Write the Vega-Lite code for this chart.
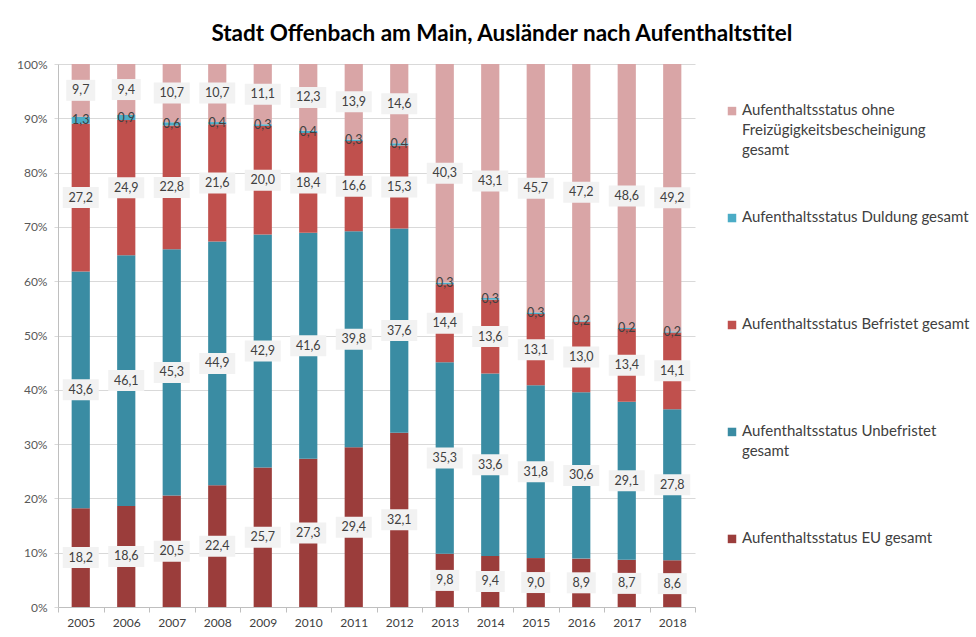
{
  "$schema": "https://vega.github.io/schema/vega-lite/v6.json",
  "background": "white",
  "padding": {"left": 16, "top": 22, "right": 5, "bottom": 5},
  "title": {
    "text": "Stadt Offenbach am Main, Ausländer nach Aufenthaltstitel",
    "font": "Lato", "fontSize": 22.5, "fontWeight": "bold", "color": "#000000",
    "anchor": "middle", "offset": 13, "dx": 9
  },
  "spacing": 28,
  "config": {
    "font": "Lato",
    "view": {"stroke": null},
    "locale": {"number": {"decimal": ",", "thousands": ".", "grouping": [3], "currency": ["", " €"]}}
  },
  "hconcat": [
    {
      "width": 637,
      "height": 543,
      "data": {"values": [
        {"year": "2005", "Aufenthaltsstatus EU gesamt": 18.2, "Aufenthaltsstatus Unbefristet gesamt": 43.6, "Aufenthaltsstatus Befristet gesamt": 27.2, "Aufenthaltsstatus Duldung gesamt": 1.3, "Aufenthaltsstatus ohne Freizügigkeitsbescheinigung gesamt": 9.7},
        {"year": "2006", "Aufenthaltsstatus EU gesamt": 18.6, "Aufenthaltsstatus Unbefristet gesamt": 46.1, "Aufenthaltsstatus Befristet gesamt": 24.9, "Aufenthaltsstatus Duldung gesamt": 0.9, "Aufenthaltsstatus ohne Freizügigkeitsbescheinigung gesamt": 9.4},
        {"year": "2007", "Aufenthaltsstatus EU gesamt": 20.5, "Aufenthaltsstatus Unbefristet gesamt": 45.3, "Aufenthaltsstatus Befristet gesamt": 22.8, "Aufenthaltsstatus Duldung gesamt": 0.6, "Aufenthaltsstatus ohne Freizügigkeitsbescheinigung gesamt": 10.7},
        {"year": "2008", "Aufenthaltsstatus EU gesamt": 22.4, "Aufenthaltsstatus Unbefristet gesamt": 44.9, "Aufenthaltsstatus Befristet gesamt": 21.6, "Aufenthaltsstatus Duldung gesamt": 0.4, "Aufenthaltsstatus ohne Freizügigkeitsbescheinigung gesamt": 10.7},
        {"year": "2009", "Aufenthaltsstatus EU gesamt": 25.7, "Aufenthaltsstatus Unbefristet gesamt": 42.9, "Aufenthaltsstatus Befristet gesamt": 20.0, "Aufenthaltsstatus Duldung gesamt": 0.3, "Aufenthaltsstatus ohne Freizügigkeitsbescheinigung gesamt": 11.1},
        {"year": "2010", "Aufenthaltsstatus EU gesamt": 27.3, "Aufenthaltsstatus Unbefristet gesamt": 41.6, "Aufenthaltsstatus Befristet gesamt": 18.4, "Aufenthaltsstatus Duldung gesamt": 0.4, "Aufenthaltsstatus ohne Freizügigkeitsbescheinigung gesamt": 12.3},
        {"year": "2011", "Aufenthaltsstatus EU gesamt": 29.4, "Aufenthaltsstatus Unbefristet gesamt": 39.8, "Aufenthaltsstatus Befristet gesamt": 16.6, "Aufenthaltsstatus Duldung gesamt": 0.3, "Aufenthaltsstatus ohne Freizügigkeitsbescheinigung gesamt": 13.9},
        {"year": "2012", "Aufenthaltsstatus EU gesamt": 32.1, "Aufenthaltsstatus Unbefristet gesamt": 37.6, "Aufenthaltsstatus Befristet gesamt": 15.3, "Aufenthaltsstatus Duldung gesamt": 0.4, "Aufenthaltsstatus ohne Freizügigkeitsbescheinigung gesamt": 14.6},
        {"year": "2013", "Aufenthaltsstatus EU gesamt": 9.8, "Aufenthaltsstatus Unbefristet gesamt": 35.3, "Aufenthaltsstatus Befristet gesamt": 14.4, "Aufenthaltsstatus Duldung gesamt": 0.3, "Aufenthaltsstatus ohne Freizügigkeitsbescheinigung gesamt": 40.3},
        {"year": "2014", "Aufenthaltsstatus EU gesamt": 9.4, "Aufenthaltsstatus Unbefristet gesamt": 33.6, "Aufenthaltsstatus Befristet gesamt": 13.6, "Aufenthaltsstatus Duldung gesamt": 0.3, "Aufenthaltsstatus ohne Freizügigkeitsbescheinigung gesamt": 43.1},
        {"year": "2015", "Aufenthaltsstatus EU gesamt": 9.0, "Aufenthaltsstatus Unbefristet gesamt": 31.8, "Aufenthaltsstatus Befristet gesamt": 13.1, "Aufenthaltsstatus Duldung gesamt": 0.3, "Aufenthaltsstatus ohne Freizügigkeitsbescheinigung gesamt": 45.7},
        {"year": "2016", "Aufenthaltsstatus EU gesamt": 8.9, "Aufenthaltsstatus Unbefristet gesamt": 30.6, "Aufenthaltsstatus Befristet gesamt": 13.0, "Aufenthaltsstatus Duldung gesamt": 0.2, "Aufenthaltsstatus ohne Freizügigkeitsbescheinigung gesamt": 47.2},
        {"year": "2017", "Aufenthaltsstatus EU gesamt": 8.7, "Aufenthaltsstatus Unbefristet gesamt": 29.1, "Aufenthaltsstatus Befristet gesamt": 13.4, "Aufenthaltsstatus Duldung gesamt": 0.2, "Aufenthaltsstatus ohne Freizügigkeitsbescheinigung gesamt": 48.6},
        {"year": "2018", "Aufenthaltsstatus EU gesamt": 8.6, "Aufenthaltsstatus Unbefristet gesamt": 27.8, "Aufenthaltsstatus Befristet gesamt": 14.1, "Aufenthaltsstatus Duldung gesamt": 0.2, "Aufenthaltsstatus ohne Freizügigkeitsbescheinigung gesamt": 49.2}
      ]},
      "transform": [
        {"fold": ["Aufenthaltsstatus EU gesamt", "Aufenthaltsstatus Unbefristet gesamt", "Aufenthaltsstatus Befristet gesamt", "Aufenthaltsstatus Duldung gesamt", "Aufenthaltsstatus ohne Freizügigkeitsbescheinigung gesamt"], "as": ["status", "value"]},
        {"calculate": "indexof(['Aufenthaltsstatus EU gesamt', 'Aufenthaltsstatus Unbefristet gesamt', 'Aufenthaltsstatus Befristet gesamt', 'Aufenthaltsstatus Duldung gesamt', 'Aufenthaltsstatus ohne Freizügigkeitsbescheinigung gesamt'], datum.status)", "as": "rank"},
        {"stack": "value", "groupby": ["year"], "sort": [{"field": "rank", "order": "ascending"}], "offset": "normalize", "as": ["y0", "y1"]},
        {"calculate": "(datum.y0 + datum.y1) / 2", "as": "mid"}
      ],
      "encoding": {
        "x": {
          "field": "year", "type": "ordinal",
          "scale": {"paddingInner": 0, "paddingOuter": 0},
          "axis": {
            "title": null, "labelAngle": 0, "labelFontSize": 12, "labelColor": "#404040",
            "labelPadding": 5, "domainColor": "#bfbfbf", "tickColor": "#bfbfbf", "tickSize": 5,
            "tickBand": "extent", "grid": false
          }
        }
      },
      "layer": [
        {
          "mark": {"type": "bar", "width": {"band": 0.4}},
          "encoding": {
            "y": {
              "field": "y0", "type": "quantitative",
              "scale": {"domain": [0, 1], "nice": false},
              "axis": {
                "title": null, "format": ".0%", "values": [0, 0.1, 0.2, 0.3, 0.4, 0.5, 0.6, 0.7, 0.8, 0.9, 1],
                "grid": true, "gridColor": "#d9d9d9", "domain": true, "domainColor": "#bfbfbf",
                "ticks": true, "tickColor": "#d9d9d9", "tickSize": 4, "labelPadding": 7,
                "labelFontSize": 12, "labelColor": "#595959"
              }
            },
            "y2": {"field": "y1"},
            "color": {
              "field": "status", "type": "nominal", "legend": null,
              "scale": {
                "domain": ["Aufenthaltsstatus ohne Freizügigkeitsbescheinigung gesamt", "Aufenthaltsstatus Duldung gesamt", "Aufenthaltsstatus Befristet gesamt", "Aufenthaltsstatus Unbefristet gesamt", "Aufenthaltsstatus EU gesamt"],
                "range": ["#d9a5a6", "#4bacc6", "#c0504d", "#3a8ca3", "#9b3d3b"]
              }
            }
          }
        },
        {
          "transform": [{"filter": "datum.status !== 'Aufenthaltsstatus Duldung gesamt'"}],
          "mark": {"type": "tick", "color": "#f2f2f2", "thickness": 21, "opacity": 1},
          "encoding": {
            "y": {"field": "mid", "type": "quantitative"},
            "size": {"condition": {"test": "datum.value < 10", "value": 29}, "value": 36}
          }
        },
        {
          "mark": {"type": "text", "fontSize": 12.5, "color": "#404040"},
          "encoding": {
            "y": {"field": "mid", "type": "quantitative"},
            "text": {"field": "value", "type": "quantitative", "format": ".1f"}
          }
        }
      ]
    },
    {
      "width": 16,
      "height": 522,
      "data": {"values": [
        {"status": "Aufenthaltsstatus ohne Freizügigkeitsbescheinigung gesamt", "label": "Aufenthaltsstatus ohne\nFreizügigkeitsbescheinigung\ngesamt"},
        {"status": "Aufenthaltsstatus Duldung gesamt", "label": "Aufenthaltsstatus Duldung gesamt"},
        {"status": "Aufenthaltsstatus Befristet gesamt", "label": "Aufenthaltsstatus Befristet gesamt"},
        {"status": "Aufenthaltsstatus Unbefristet gesamt", "label": "Aufenthaltsstatus Unbefristet\ngesamt"},
        {"status": "Aufenthaltsstatus EU gesamt", "label": "Aufenthaltsstatus EU gesamt"}
      ]},
      "encoding": {
        "y": {
          "field": "status", "type": "nominal", "axis": null,
          "scale": {
            "type": "point", "padding": 0.44,
            "domain": ["Aufenthaltsstatus ohne Freizügigkeitsbescheinigung gesamt", "Aufenthaltsstatus Duldung gesamt", "Aufenthaltsstatus Befristet gesamt", "Aufenthaltsstatus Unbefristet gesamt", "Aufenthaltsstatus EU gesamt"]
          }
        }
      },
      "layer": [
        {
          "mark": {"type": "square", "size": 72, "filled": true, "opacity": 1},
          "encoding": {
            "color": {
              "field": "status", "type": "nominal", "legend": null,
              "scale": {
                "domain": ["Aufenthaltsstatus ohne Freizügigkeitsbescheinigung gesamt", "Aufenthaltsstatus Duldung gesamt", "Aufenthaltsstatus Befristet gesamt", "Aufenthaltsstatus Unbefristet gesamt", "Aufenthaltsstatus EU gesamt"],
                "range": ["#d9a5a6", "#4bacc6", "#c0504d", "#3a8ca3", "#9b3d3b"]
              }
            }
          }
        },
        {
          "mark": {"type": "text", "align": "left", "baseline": "top", "dx": 10, "dy": -8, "fontSize": 15, "lineBreak": "\n", "lineHeight": 20, "color": "#404040"},
          "encoding": {"text": {"field": "label", "type": "nominal"}}
        }
      ]
    }
  ]
}
